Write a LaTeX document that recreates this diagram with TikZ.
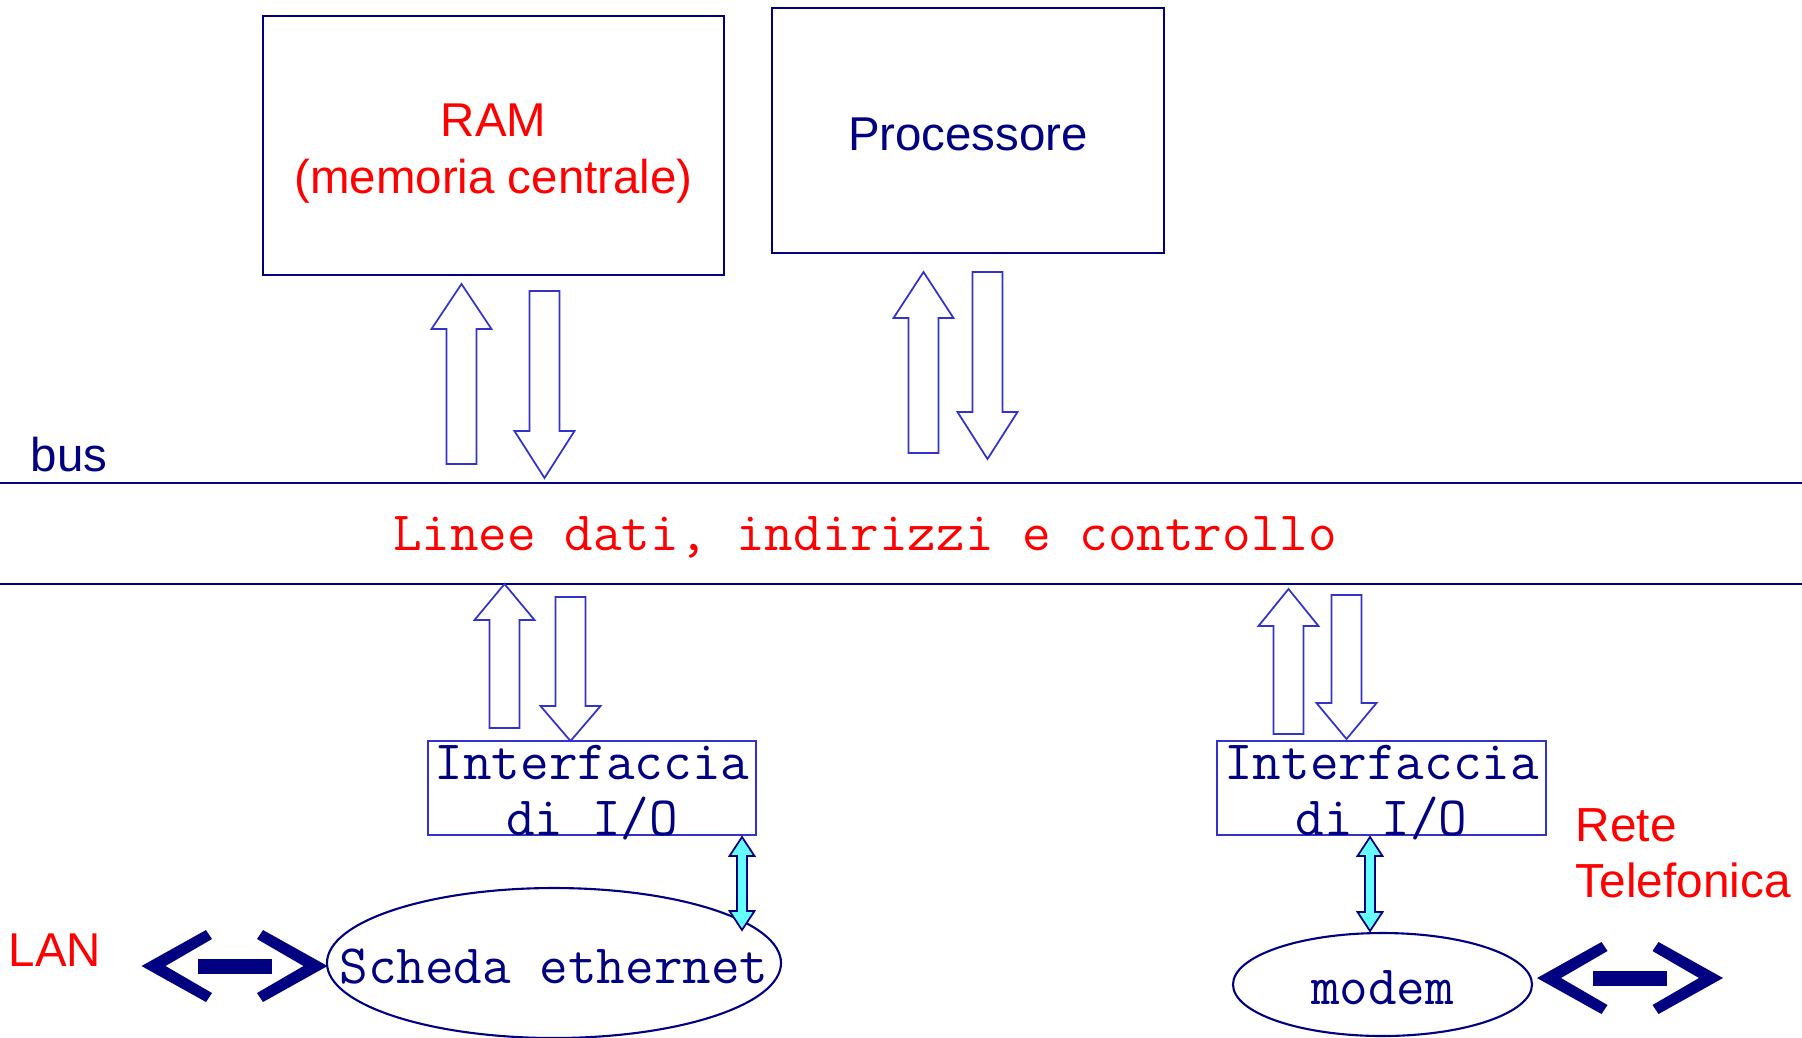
\documentclass[tikz,border=0pt]{standalone}
\usepackage{fontspec}
\setmainfont{Liberation Sans}
\usetikzlibrary{shapes.geometric}
\definecolor{navyblue}{RGB}{0,0,128}
\definecolor{arrowblue}{RGB}{51,51,204}
\definecolor{linkcyan}{RGB}{102,255,255}
\newcommand{\sanstext}{\fontsize{13.5}{16.4}\selectfont}
\newcommand{\monotext}{\ttfamily\fontsize{15.8}{15.9}\selectfont}
% hollow block arrow: centre x, tail y, tip y, head base y
\newcommand{\busarrow}[4]{%
  \draw[blockarrow] (#1-15,#2) -- (#1-15,#4) -- (#1-30,#4) -- (#1,#3) -- (#1+30,#4) -- (#1+15,#4) -- (#1+15,#2) -- cycle;}
% double headed link arrow: centre x, top tip y, bottom tip y
\newcommand{\linkarrow}[3]{%
  \draw[cyanarrow] (#1,#2) -- (#1+12.5,#2+19) -- (#1+5,#2+19) -- (#1+5,#3-19) -- (#1+12.5,#3-19) -- (#1,#3)
    -- (#1-12.5,#3-19) -- (#1-5,#3-19) -- (#1-5,#2+19) -- (#1-12.5,#2+19) -- cycle;}
% network symbol: centre
\newcommand{\netarrow}[2]{%
  \fill[navyblue] (#1-93,#2) -- (#1-28.5,#2-36) -- (#1-22.5,#2-27) -- (#1-69,#2) -- (#1-22.5,#2+27) -- (#1-28.5,#2+36) -- cycle;
  \fill[navyblue] (#1+93,#2) -- (#1+28.5,#2-36) -- (#1+22.5,#2-27) -- (#1+69,#2) -- (#1+22.5,#2+27) -- (#1+28.5,#2+36) -- cycle;
  \fill[navyblue] (#1-37,#2-7.5) rectangle (#1+37,#2+7.5);}
\begin{document}
\begin{tikzpicture}[x=0.1mm, y=-0.1mm,
    box/.style={draw=navyblue, line width=0.6pt, rectangle, inner sep=0pt},
    iobox/.style={draw=arrowblue, line width=0.6pt, rectangle, inner sep=0pt},
    device/.style={draw=navyblue, line width=0.6pt, ellipse, inner sep=0pt},
    sanslabel/.style={font=\sanstext, align=center, inner sep=0pt},
    monolabel/.style={text=navyblue, font=\monotext, align=center, inner sep=0pt},
    blockarrow/.style={draw=arrowblue, line width=0.5pt, fill=white},
    cyanarrow/.style={draw=navyblue, line width=0.5pt, fill=linkcyan},
    busline/.style={draw=navyblue, line width=0.6pt}]
    \useasboundingbox (0,0) rectangle (1802,1037);
    % memory and processor
    \node[box, minimum width=46.1mm, minimum height=25.9mm, label={[sanslabel, text=red, yshift=-2.3pt]center:{RAM\\(memoria centrale)}}] (ram) at (493.5,145.5) {};
    \node[box, minimum width=39.2mm, minimum height=24.5mm, label={[sanslabel, text=navyblue, yshift=-1pt]center:Processore}] (cpu) at (968,130.5) {};
    % bus
    \draw[busline] (0,483) -- (1802,483);
    \draw[busline] (0,584) -- (1802,584);
    \node[text=navyblue, font=\sanstext] (bus) at (69,455) {bus};
    \node[text=red, font=\monotext] (lines) at (865,537) {Linee dati, indirizzi e controllo};
    % I/O interfaces and devices
    \node[iobox, minimum width=32.8mm, minimum height=9.4mm, label={[monolabel, yshift=-1.3pt]center:{Interfaccia\\di I/O}}] (io1) at (592,788) {};
    \node[iobox, minimum width=32.9mm, minimum height=9.4mm, label={[monolabel, yshift=-1.3pt]center:{Interfaccia\\di I/O}}] (io2) at (1381.5,788) {};
    \node[device, minimum width=45.4mm, minimum height=15mm, label={[monolabel, yshift=-1pt]center:Scheda ethernet}] (eth) at (554,963) {};
    \node[device, minimum width=29.9mm, minimum height=10.3mm, label={[monolabel, yshift=-1pt]center:modem}] (modem) at (1382.5,984.5) {};
    % arrows to and from the bus
    \busarrow{461.5}{464}{284}{329}
    \busarrow{544.5}{291}{478}{431}
    \busarrow{923.5}{453}{272}{318}
    \busarrow{987.5}{272}{459}{412}
    \busarrow{504.5}{728}{584}{620}
    \busarrow{570.5}{597}{741}{706}
    \busarrow{1288.5}{734}{589}{626}
    \busarrow{1346.5}{595}{739}{703}
    % links to the devices
    \linkarrow{742}{837}{930}
    \linkarrow{1370}{837}{931}
    % networks
    \netarrow{234.5}{966}
    \netarrow{1630}{978}
    \node[text=red, font=\sanstext] (lan) at (55,950) {LAN};
    \node[text=red, font=\fontsize{13.6}{15.9}\selectfont, align=left, anchor=west, inner sep=0pt] (tel) at (1575,853) {Rete\\Telefonica};
\end{tikzpicture}
\end{document}
